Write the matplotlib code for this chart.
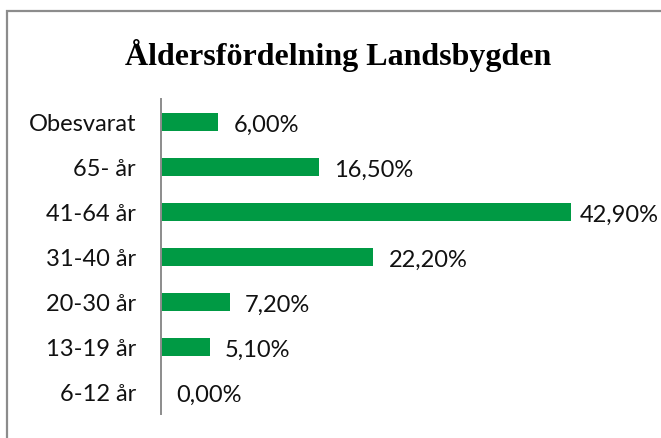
import matplotlib.pyplot as plt
from matplotlib.patches import Rectangle

# data (top to bottom as in the chart)
categories = ["Obesvarat", "65- år", "41-64 år", "31-40 år", "20-30 år", "13-19 år", "6-12 år"]
values = [6.0, 16.5, 42.9, 22.2, 7.2, 5.1, 0.0]
value_labels = ["6,00%", "16,50%", "42,90%", "22,20%", "7,20%", "5,10%", "0,00%"]

W, H = 661, 439
bar_color = "#009A44"
label_font = "Lato"

fig = plt.figure(figsize=(W / 100, H / 100), dpi=100)

# chart border (gray frame, only left and top visible in the crop)
fig.patches.append(Rectangle((6.5 / W, -0.1), 1.2, 1 - 11.5 / H + 0.1,
                             transform=fig.transFigure, fill=False,
                             edgecolor="#8c8c8c", linewidth=1.6))

fig.text(338 / W, 1 - 55 / H, "Åldersfördelning Landsbygden", ha="center", va="center",
         family="Liberation Serif", fontweight="bold", fontsize=23)

ax = fig.add_axes([161 / W, 1 - 415 / H, 430 / W, 315 / H])
ypos = list(range(len(categories)))[::-1]
ax.barh(ypos, values, height=0.4, color=bar_color)
ax.set_xlim(0, 45)
ax.set_ylim(-0.5, len(categories) - 0.5)
ax.set_yticks(ypos)
ax.set_yticklabels(categories, family=label_font, fontsize=17, color="#111111")
ax.tick_params(axis="y", length=0, pad=18)
ax.set_xticks([])
for s in ["top", "right", "bottom"]:
    ax.spines[s].set_visible(False)
ax.spines["left"].set_color("#8c8c8c")
ax.spines["left"].set_linewidth(1.4)

for y, v, lab in zip(ypos, values, value_labels):
    pad = 6.5 if v == max(values) else 11
    ax.annotate(lab, (v, y), xytext=(pad, -2), textcoords="offset points",
                ha="left", va="center", family=label_font, fontsize=17,
                color="#111111", annotation_clip=False)

fig.savefig("out.png", dpi=100)
